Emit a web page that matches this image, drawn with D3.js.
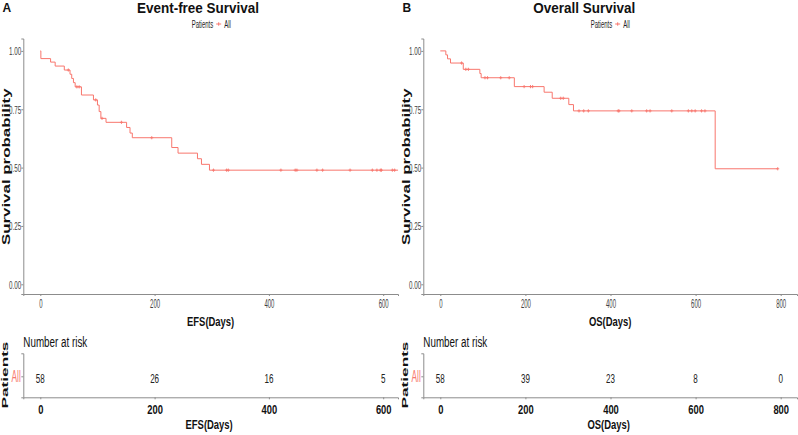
<!DOCTYPE html>
<html>
<head>
<meta charset="utf-8">
<script src="https://cdn.jsdelivr.net/npm/d3@7"></script>
<style>
  html, body { margin: 0; padding: 0; background: #fff; }
  svg { display: block; }
  text { font-family: "Liberation Sans", Arial, sans-serif; }
</style>
</head>
<body>
<svg id="chart" width="798" height="435"></svg>
<script>
// ---------------- Data ----------------
const panelLetters = ["A", "B"];
const panelTitles = ["Event-free Survival", "Overall Survival"];
const xTitles = ["EFS(Days)", "OS(Days)"];
const yTitle = "Survival probability";
const yTicks = [0, 0.25, 0.5, 0.75, 1.0];
const yTickLabels = ["0.00", "0.25", "0.50", "0.75", "1.00"];
const efsTicks = [0, 200, 400, 600];
const osTicks = [0, 200, 400, 600, 800];

// Event-free survival: step times (days) and survival probability after each step
const efsTime = [0, 1, 18, 26, 42, 52, 55, 58, 61, 72, 93, 100, 103, 106, 115, 151, 157, 161, 230, 241, 275, 282, 296, 626];
const efsSurv = [1.0, 0.967, 0.952, 0.935, 0.918, 0.90, 0.882, 0.864, 0.846, 0.811, 0.79, 0.768, 0.74, 0.711, 0.694, 0.672, 0.648, 0.628, 0.586, 0.562, 0.538, 0.514, 0.489, 0.489];
const efsCensor = [49, 64, 68, 97, 108, 142, 195, 303, 326, 329, 421, 446, 449, 484, 494, 542, 581, 589, 595, 597, 616, 620];
const efsRisk = [58, 26, 16, 5];

// Overall survival
const osTime = [0, 13, 17, 24, 54, 93, 96, 174, 244, 263, 302, 313, 646, 793];
const osSurv = [1.0, 0.983, 0.966, 0.948, 0.921, 0.903, 0.885, 0.847, 0.823, 0.797, 0.77, 0.743, 0.495, 0.495];
const osCensor = [50, 60, 66, 105, 111, 142, 162, 197, 212, 217, 283, 289, 326, 337, 348, 418, 420, 450, 485, 493, 544, 583, 591, 599, 614, 622, 793];
const osRisk = [58, 39, 23, 8, 0];

const riskGroup = "All";
const legendTitle = "Patients";
const riskTitle = "Number at risk";

// ---------------- Drawing ----------------
const svg = d3.select("#chart");
const RED = "#F8766D";
const AXIS = "#8c8c8c";
const TXT = "#3f3f3f";

// horizontally squeeze text about its anchor point (the reference image is compressed horizontally)
function squeeze(sel, k) {
  sel.each(function () {
    const t = d3.select(this);
    const x = +t.attr("x") || 0, y = +t.attr("y") || 0;
    const prev = t.attr("transform") || "";
    t.attr("x", 0).attr("y", 0).attr("transform", `${prev} translate(${x},${y}) scale(${k},1)`);
  });
  return sel;
}
// rotated title whose glyph height is compressed
function rotatedTitle(g, str, cx, cy, size, capH) {
  const k = capH / (0.716 * size);
  return g.append("text").attr("transform", `translate(${cx},${cy}) scale(${k},1) rotate(-90)`)
    .attr("text-anchor", "middle").attr("font-weight", "bold").attr("font-size", size)
    .attr("fill", "#111").text(str);
}

const panels = [
  { off: 0, left: 23.3, right: 398, x0: 40.3, xPerDay: 0.5715, titleX: 198, legX: 191.7, ticks: efsTicks, time: efsTime, surv: efsSurv, censor: efsCensor, risk: efsRisk },
  { off: 400, left: 423.3, right: 797, x0: 440.3, xPerDay: 0.4255, titleX: 584.3, legX: 590.7, ticks: osTicks, time: osTime, surv: osSurv, censor: osCensor, risk: osRisk }
];

const plotTop = 38.5, plotBottom = 294;
const y1px = 50.9, y0px = 284.3;

panels.forEach((p, i) => {
  const g = svg.append("g");
  const base = d3.scaleLinear().domain([0, 1]).range([p.x0, p.x0 + p.xPerDay]);
  const x = d3.scaleLinear().domain([base.invert(p.left), base.invert(p.right)]).range([p.left, p.right]);
  const ybase = d3.scaleLinear().domain([0, 1]).range([y0px, y1px]);
  const y = d3.scaleLinear().domain([ybase.invert(plotBottom), ybase.invert(plotTop)]).range([plotBottom, plotTop]);

  // panel letter and title
  g.append("text").attr("x", p.off + 2.5).attr("y", 11.8)
    .attr("font-weight", "bold").attr("font-size", 12).attr("fill", "#111").text(panelLetters[i]);
  squeeze(g.append("text").attr("x", p.titleX).attr("y", 12.6).attr("text-anchor", "middle")
    .attr("font-weight", "bold").attr("font-size", 14.5).attr("fill", "#111").text(panelTitles[i]), 0.93);

  // legend
  const lg = g.append("g").attr("font-size", 11).attr("fill", "#222");
  squeeze(lg.append("text").attr("x", p.legX).attr("y", 28).text(legendTitle), 0.54);
  lg.append("line").attr("x1", p.legX + 24.5).attr("x2", p.legX + 29.5).attr("y1", 24).attr("y2", 24).attr("stroke", RED).attr("stroke-width", 1);
  lg.append("line").attr("x1", p.legX + 27).attr("x2", p.legX + 27).attr("y1", 22.3).attr("y2", 25.7).attr("stroke", RED).attr("stroke-width", 1);
  squeeze(lg.append("text").attr("x", p.legX + 32.6).attr("y", 28).text(riskGroup), 0.54);

  // axes
  const yAxis = d3.axisLeft(y).tickValues(yTicks).tickFormat((d, k) => yTickLabels[k]).tickSizeOuter(0).tickSize(2);
  const ya = g.append("g").attr("transform", `translate(${p.left},0)`).call(yAxis);
  const xAxis = d3.axisBottom(x).tickValues(p.ticks).tickSizeOuter(0).tickSize(2);
  const xa = g.append("g").attr("transform", `translate(0,${plotBottom})`).call(xAxis);
  [ya, xa].forEach(a => {
    a.attr("font-family", null);
    a.select(".domain").attr("stroke", AXIS).attr("stroke-width", 1);
    a.selectAll(".tick line").attr("stroke", AXIS);
  });
  ya.selectAll(".tick text").attr("font-size", 10.5).attr("fill", TXT).attr("x", -2).attr("dy", "0.36em");
  squeeze(ya.selectAll(".tick text"), 0.6);
  xa.selectAll(".tick text").attr("font-size", 12).attr("fill", TXT).attr("y", 14).attr("dy", 0);
  squeeze(xa.selectAll(".tick text"), 0.5);

  // axis titles
  squeeze(g.append("text").attr("x", (p.left + p.right) / 2).attr("y", 325.5).attr("text-anchor", "middle")
    .attr("font-weight", "bold").attr("font-size", 13.5).attr("fill", "#111").text(xTitles[i]), 0.7);
  rotatedTitle(g, yTitle, p.off + 10, (plotTop + plotBottom) / 2 + 0.5, 16.9, 8.3);

  // survival step curve
  const pts = p.time.map((t, k) => [t, p.surv[k]]);
  const line = d3.line().x(d => x(d[0])).y(d => y(d[1])).curve(d3.curveStepAfter);
  g.append("path").attr("d", line(pts)).attr("fill", "none").attr("stroke", RED).attr("stroke-width", 1);

  // censor marks
  const survAt = t => { let s = p.surv[0]; for (let k = 0; k < p.time.length; k++) { if (p.time[k] <= t) s = p.surv[k]; } return s; };
  const cg = g.append("g").attr("stroke", RED).attr("stroke-width", 0.9);
  p.censor.forEach(t => {
    const cx = x(t), cy = y(survAt(t));
    cg.append("line").attr("x1", cx - 1.5).attr("x2", cx + 1.5).attr("y1", cy).attr("y2", cy);
    cg.append("line").attr("x1", cx).attr("x2", cx).attr("y1", cy - 1.6).attr("y2", cy + 1.6);
  });

  // ---------------- Risk table ----------------
  const rTop = 353.3, rBottom = 397.3;
  squeeze(g.append("text").attr("x", p.left).attr("y", 346.7).attr("font-size", 14.5)
    .attr("fill", "#111").text(riskTitle), 0.68);
  const ry = d3.scaleBand().domain([riskGroup]).range([rBottom, rTop]);
  const rowC = ry(riskGroup) + ry.bandwidth() / 2;
  const ryAxis = d3.axisLeft(ry).tickSizeOuter(0).tickSize(2);
  const rya = g.append("g").attr("transform", `translate(${p.left},0)`).call(ryAxis);
  rya.attr("font-family", null);
  rya.select(".domain").attr("stroke", AXIS);
  rya.selectAll(".tick line").attr("stroke", AXIS).attr("transform", "translate(0,1.5)");
  rya.selectAll(".tick text").attr("font-size", 16).attr("fill", RED).attr("x", -2.5).attr("dy", 0).attr("y", 6.4);
  squeeze(rya.selectAll(".tick text"), 0.52);
  const rxAxis = d3.axisBottom(x).tickValues(p.ticks).tickSizeOuter(0).tickSize(2);
  const rxa = g.append("g").attr("transform", `translate(0,${rBottom})`).call(rxAxis);
  rxa.attr("font-family", null);
  rxa.select(".domain").attr("stroke", AXIS);
  rxa.selectAll(".tick line").attr("stroke", AXIS);
  rxa.selectAll(".tick text").attr("font-size", 12.5).attr("font-weight", "bold")
    .attr("fill", "#111").attr("y", 16.7).attr("dy", 0);
  squeeze(rxa.selectAll(".tick text"), 0.75);
  squeeze(g.append("g").selectAll("text").data(p.risk).join("text")
    .attr("x", (d, k) => x(p.ticks[k])).attr("y", rowC + 7.4)
    .attr("text-anchor", "middle").attr("font-size", 13).attr("fill", "#222").text(d => d), 0.62);
  squeeze(g.append("text").attr("x", (p.left + p.right) / 2 - 1.5).attr("y", 429).attr("text-anchor", "middle")
    .attr("font-weight", "bold").attr("font-size", 13.5).attr("fill", "#111").text(xTitles[i]), 0.7);
  rotatedTitle(g, legendTitle, p.off + 7.8, 375, 17.2, 7);
});
</script>
</body>
</html>
